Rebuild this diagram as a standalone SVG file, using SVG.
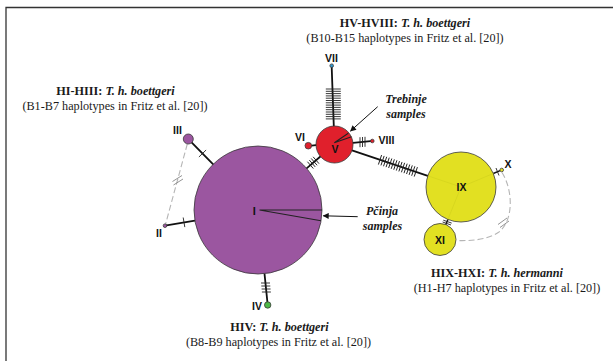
<svg xmlns="http://www.w3.org/2000/svg" width="613" height="361" viewBox="0 0 613 361">
  <style>
    .cap { font-family: "Liberation Serif", "Times New Roman", serif; font-size: 12.2px; fill: #1a1a1a; text-anchor: middle; }
    .b { font-weight: bold; }
    .bi { font-weight: bold; font-style: italic; }
    .note { font-family: "Liberation Serif", "Times New Roman", serif; font-size: 12px; font-weight: bold; font-style: italic; fill: #1a1a1a; text-anchor: middle; }
    .lbl { font-family: "Liberation Sans", Arial, sans-serif; font-size: 10.5px; font-weight: bold; fill: #111; text-anchor: middle; dominant-baseline: central; }
    .node { stroke: #3a3a3a; stroke-width: 0.8; }
    .edge { stroke: #111; stroke-width: 1.8; fill: none; stroke-linecap: round; }
    .tick { stroke: #222; stroke-width: 0.9; fill: none; }
    .dash { stroke: #b5b5b5; stroke-width: 1.1; fill: none; stroke-dasharray: 6 3; }
    .dtick { stroke: #888; stroke-width: 0.9; fill: none; }
    .sector { stroke: #222; stroke-width: 1.1; fill: none; }
    .faint { stroke: #d2d21c; stroke-width: 0.7; fill: none; }
    .arrow { stroke: #111; stroke-width: 1; fill: none; }
    .purple { fill: #9b56a0; }
    .red { fill: #e0202c; }
    .yellow { fill: #e2e022; }
    .green { fill: #4cb848; }
    .blue { fill: #2f95c8; }
  </style>
  <defs>
    <marker id="ah" viewBox="0 0 10 10" refX="9" refY="5" markerWidth="7" markerHeight="6" markerUnits="userSpaceOnUse" orient="auto">
      <path d="M0,0 L10,5 L0,10 z" fill="#111"/>
    </marker>
  </defs>

  <!-- frame -->
  <path d="M6,361 V7.5 H613" fill="none" stroke="#333" stroke-width="1.3"/>

  <!-- captions -->
  <g id="caption-HV">
    <text class="cap" x="405" y="27"><tspan class="b">HV-HVIII: </tspan><tspan class="bi">T. h. boettgeri</tspan></text>
    <text class="cap" x="405" y="41.5">(B10-B15 haplotypes in Fritz et al. [20])</text>
  </g>
  <g id="caption-HI">
    <text class="cap" x="115.5" y="94.5"><tspan class="b">HI-HIII: </tspan><tspan class="bi">T. h. boettgeri</tspan></text>
    <text class="cap" x="115" y="109.5">(B1-B7 haplotypes in Fritz et al. [20])</text>
  </g>
  <g id="caption-HIX">
    <text class="cap" x="497" y="276.5"><tspan class="b">HIX-HXI: </tspan><tspan class="bi">T. h. hermanni</tspan></text>
    <text class="cap" x="507" y="291.5">(H1-H7 haplotypes in Fritz et al. [20])</text>
  </g>
  <g id="caption-HIV">
    <text class="cap" x="279.5" y="331"><tspan class="b">HIV: </tspan><tspan class="bi">T. h. boettgeri</tspan></text>
    <text class="cap" x="278.5" y="346">(B8-B9 haplotypes in Fritz et al. [20])</text>
  </g>

  <!-- connectors -->
  <g id="connectors">
    <!-- III - I -->
    <line class="edge" x1="191.8" y1="142.6" x2="213.2" y2="164.4"/>
    <path class="tick" d="M206.1,150 L198.9,157"/>
    <!-- II - I -->
    <line class="edge" x1="166.5" y1="225.4" x2="194.9" y2="220.6"/>
    <path class="tick" d="M183.2,217.5 L184.8,227.1"/>
    <!-- IV - I -->
    <line class="edge" x1="264.5" y1="273.7" x2="267.4" y2="302"/>
    <path class="tick" d="M261,283 H270 M261.3,286 H270.3 M261.6,289 H270.6 M261.9,292 H270.9"/>
    <!-- I - V -->
    <line class="edge" x1="306.6" y1="168.4" x2="320.4" y2="156.5"/>
    <g transform="translate(306.6,168.4) rotate(-40.8)">
      <path class="tick" d="M5,-4.5 V4.5 M7.5,-4.5 V4.5 M10,-4.5 V4.5 M12.5,-4.5 V4.5"/>
    </g>
    <!-- VII - V -->
    <line class="edge" x1="331.7" y1="67.3" x2="333.8" y2="126"/>
    <path class="tick" d="M325,89 H340 M325,91.3 H340 M325,93.6 H340 M325,95.9 H340 M325,98.2 H340 M325,100.5 H340 M325,102.8 H340 M325,105.1 H340 M325,107.4 H340 M325,109.7 H340 M325,112 H340 M325,114.3 H340 M325,116.6 H340 M325,118.9 H340" transform="translate(0.8,0)"/>
    <!-- VI - V -->
    <line class="edge" x1="311.6" y1="145.6" x2="316" y2="145.1"/>
    <!-- VIII - V -->
    <line class="edge" x1="352.9" y1="142.8" x2="370.6" y2="141.2"/>
    <path class="tick" d="M360,137.2 V147.2 M362.5,137 V147 M365,136.8 V146.8"/>
    <!-- V - IX -->
    <line class="edge" x1="352" y1="150.4" x2="427.8" y2="175.8"/>
    <g transform="translate(334.5,144.5) rotate(18.6)">
      <path class="tick" d="M48,-5 V5 M50.7,-5 V5 M53.4,-5 V5 M56.1,-5 V5 M58.8,-5 V5 M61.5,-5 V5 M64.2,-5 V5 M66.9,-5 V5 M69.6,-5 V5 M72.3,-5 V5 M75,-5 V5 M77.7,-5 V5 M80.4,-5 V5 M83.1,-5 V5 M85.8,-5 V5"/>
    </g>
    <!-- IX - X -->
    <line class="edge" x1="493.3" y1="173.5" x2="500.1" y2="170.7" style="stroke-width:1.4"/>
    <path class="tick" d="M496,168 L499,175.5"/>
    <!-- IX - XI -->
    <line class="edge" x1="447.9" y1="219.4" x2="446" y2="224.2" style="stroke-width:1.4"/>
    <path class="tick" d="M443.3,220.2 L451.7,223.1 M442.6,222 L451,225"/>
    <!-- III - II (dashed) -->
    <line class="dash" x1="187.3" y1="144" x2="165.6" y2="224"/>
    <path class="dtick" d="M172.5,181.5 L182,175.5 M173.5,185 L183,179"/>
    <!-- X - XI (dashed) -->
    <path class="dash" d="M502,172.5 C513,190 514,220 499,232 C488,240 470,241 456.5,240.5"/>
    <path class="dtick" d="M498,224.5 L507,218 M500,227.5 L509,221"/>
    <!-- annotation arrows -->
    <line class="arrow" x1="377.7" y1="106.7" x2="350.5" y2="131" marker-end="url(#ah)"/>
    <line class="arrow" x1="357.7" y1="216.7" x2="323.3" y2="215.8" marker-end="url(#ah)"/>
  </g>

  <!-- nodes -->
  <g id="node-I">
    <circle class="node purple" cx="258" cy="210" r="64"/>
    <path class="sector" d="M259.5,210 H322 M259.5,210 L321,220.7"/>
    <text class="lbl" x="254.3" y="210.5" style="font-size:11px">I</text>
  </g>
  <g id="node-II">
    <circle class="node purple" cx="165" cy="225.7" r="1.8"/>
    <text class="lbl" x="159" y="233">II</text>
  </g>
  <g id="node-III">
    <circle class="node purple" cx="188.3" cy="139" r="5"/>
    <text class="lbl" x="177.5" y="130">III</text>
  </g>
  <g id="node-IV">
    <circle class="node green" cx="267.7" cy="305" r="3.2"/>
    <text class="lbl" x="257" y="306">IV</text>
  </g>
  <g id="node-V">
    <circle class="node red" cx="334.5" cy="144.5" r="18.5"/>
    <path class="sector" d="M334.3,142.7 L348.3,133.3 M334.3,142.7 L351.5,136.7"/>
    <text class="lbl" x="335" y="148.5">V</text>
  </g>
  <g id="node-VI">
    <circle class="node red" cx="308.3" cy="145.7" r="3.3"/>
    <text class="lbl" x="300" y="136.7">VI</text>
  </g>
  <g id="node-VII">
    <circle class="node blue" cx="331.7" cy="65.7" r="1.8"/>
    <text class="lbl" x="331.5" y="58.3">VII</text>
  </g>
  <g id="node-VIII">
    <circle class="node red" cx="372.3" cy="141" r="1.8"/>
    <text class="lbl" x="386.5" y="140">VIII</text>
  </g>
  <g id="node-IX">
    <circle class="node yellow" cx="461" cy="187" r="35"/>
    <path class="faint" d="M461,187 L427.8,175.8 M461,187 L447.9,219.4 M461,187 L493.3,173.5"/>
    <text class="lbl" x="461.5" y="186.7">IX</text>
  </g>
  <g id="node-X">
    <circle class="node yellow" cx="501.7" cy="170" r="1.8"/>
    <text class="lbl" x="508" y="163.5">X</text>
  </g>
  <g id="node-XI">
    <circle class="node yellow" cx="440" cy="239.5" r="16"/>
    <text class="lbl" x="440" y="239.5">XI</text>
  </g>

  <!-- annotations -->
  <g id="note-trebinje">
    <text class="note" x="406" y="102.5">Trebinje</text>
    <text class="note" x="406" y="117.5">samples</text>
  </g>
  <g id="note-pcinja">
    <text class="note" x="382" y="215">Pčinja</text>
    <text class="note" x="382.5" y="230">samples</text>
  </g>
</svg>
